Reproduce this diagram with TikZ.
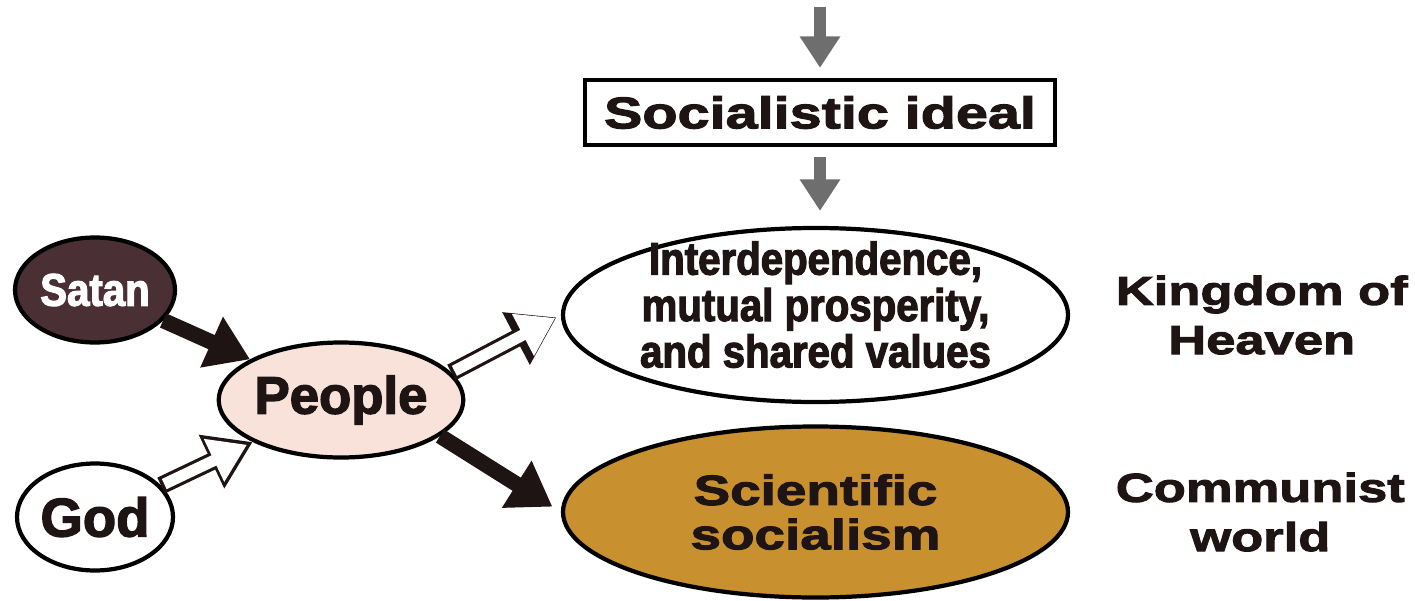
\documentclass[tikz,border=0pt]{standalone}
\usepackage{fontspec}
\usepackage{tikz}
\usetikzlibrary{arrows.meta,positioning,shapes.geometric}
\newfontfamily\heavyfont{Liberation Sans}[BoldFeatures={FakeBold=2.5}]
\newfontfamily\narrowfont{Liberation Sans}[BoldFeatures={FakeBold=2.5,FakeStretch=0.88}]
\newfontfamily\widefont{Liberation Sans}[BoldFeatures={FakeBold=2.5,FakeStretch=1.3}]
\definecolor{satanfill}{HTML}{4A3035}
\definecolor{peoplefill}{HTML}{F9E2DA}
\definecolor{scifill}{HTML}{C8902F}
\definecolor{arrowgray}{HTML}{6E6E6E}
\definecolor{inktext}{HTML}{1E1414}
\tikzset{
  agentnode/.style={draw,ellipse,line width=1.2pt,inner sep=0pt,align=center,text=inktext},
  idealnode/.style={draw,ellipse,line width=1.2pt,inner xsep=0pt,inner ysep=-12pt,align=center,text=inktext,minimum width=5.05cm},
  idealbox/.style={draw,line width=1.2pt,minimum width=4.7cm,minimum height=0.65cm,inner sep=0pt,text=inktext,font=\widefont\bfseries\fontsize{12.6}{15}\selectfont},
  sidelabel/.style={align=center,inner sep=0pt,text=inktext,font=\widefont\bfseries\fontsize{11.5}{14}\selectfont},
  grayarrow/.style={line width=3.6pt,arrowgray,-{Triangle[length=9pt,width=11pt]}},
  solidarrow/.style={line width=4.4pt,inktext,-{Triangle[length=12pt,width=15pt]}},
  hollowarrow/.style={line width=5pt,inktext,-{Triangle[length=13pt,width=16pt]},
    postaction={draw=white,line width=3.2pt,shorten <=1pt,shorten >=1.8pt,-{Triangle[length=10.4pt,width=12.8pt]}}}
}
\begin{document}
\begin{tikzpicture}
\useasboundingbox (0,0) rectangle (14.15,6);

% the three forces round man
\node[agentnode,fill=satanfill,text=white,minimum width=1.6cm,minimum height=1.05cm,
  font=\narrowfont\bfseries\fontsize{13}{15}\selectfont] (satan) at (0.95,3.10) {Satan};
\node[agentnode,fill=peoplefill,minimum width=2.17cm,minimum height=1.15cm,
  font=\heavyfont\bfseries\fontsize{15}{17}\selectfont] (people) at (3.41,2.00) {People};
\node[agentnode,fill=white,minimum width=1.56cm,minimum height=1.07cm,
  font=\heavyfont\bfseries\fontsize{15.5}{17}\selectfont] (god) at (0.95,0.83) {God};

% the two outcomes
\node[idealnode,fill=white,minimum height=1.74cm,text depth=6pt,
  font=\narrowfont\bfseries\fontsize{13}{13.2}\selectfont] (inter) at (8.155,2.85)
  {Interdependence,\\mutual prosperity,\\and shared values};
\node[idealnode,fill=scifill,minimum height=1.71cm,
  font=\widefont\bfseries\fontsize{12}{12.6}\selectfont] (sci) at (8.155,0.88)
  {Scientific\\socialism};
\node[idealbox] (ideal) at (8.2,4.875) {Socialistic ideal};
\coordinate (feed) at (8.2,5.93);

\node[sidelabel,right=0.45cm of inter] (kingdom) {Kingdom of\\Heaven};
\node[sidelabel,right=0.45cm of sci] (communist) {Communist\\world};

% connectors
\draw[grayarrow,shorten >=0.1cm] (feed) -- (ideal.north);
\draw[grayarrow,shorten <=0.1cm,shorten >=0.15cm] (ideal.south) -- (ideal.south |- inter.north);
\draw[solidarrow] (satan) -- (people);
\draw[hollowarrow] (god) -- (people);
\draw[hollowarrow,shorten >=0.05cm] (people.14) -- (inter.west);
\draw[solidarrow,shorten >=0.1cm] (people.-20) -- (sci.west);
\end{tikzpicture}
\end{document}
